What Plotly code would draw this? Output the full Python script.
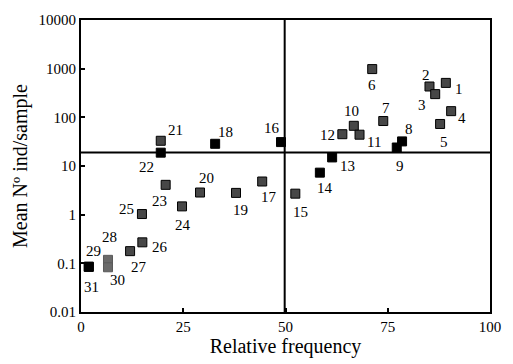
import numpy as np
import plotly.graph_objects as go

# ---- data ----
ids = list(range(1, 32))
rel_freq = [89.2, 85.2, 86.6, 90.5, 87.8, 71.2, 73.9, 78.5, 77.2, 66.7,
            68.1, 63.9, 61.4, 58.4, 52.4, 48.9, 44.3, 32.8, 37.9, 29.1,
            19.5, 19.5, 20.7, 24.7, 14.9, 15.0, 12.0, 6.6, 1.9, 6.6, 1.9]
mean_ind = [510, 430, 300, 134, 73, 980, 84, 32, 24, 67,
            44, 45, 15, 7.3, 2.7, 31, 4.8, 28.6, 2.8, 2.85,
            33, 18.8, 4.1, 1.48, 1.03, 0.27, 0.178, 0.118, 0.085, 0.083, 0.085]
ref_x = 49.8
ref_y = 19
x_ticks = [0, 25, 50, 75, 100]
y_ticks = [0.01, 0.1, 1, 10, 100, 1000, 10000]
y_ticktext = ["0.01", "0.1", "1", "10", "100", "1000", "10000"]

# ---- styles ----
black_ids = {8, 9, 13, 14, 16, 18, 22, 29, 31}
light_ids = {28, 30}
colors = ["#000000" if i in black_ids else ("#6a6a6a" if i in light_ids else "#474747") for i in ids]
line_colors = ["#5a5a5a" if i in light_ids else "#000000" for i in ids]
label_offsets = {
    1: (13, 6), 2: (-3, -12), 3: (-13, 11), 4: (11, 7), 5: (4, 18),
    6: (0, 16), 7: (3, -13), 8: (7, -12), 9: (3, 18), 10: (-2, -15),
    11: (14, 7), 12: (-15, 1), 13: (15, 9), 14: (5, 15), 15: (5, 18),
    16: (-9, -14), 17: (7, 15), 18: (10, -12), 19: (4, 17), 20: (6, -15),
    21: (15, -11), 22: (-14, 14), 23: (-6, 16), 24: (1, 19), 25: (-15, -5),
    26: (18, 5), 27: (9, 16), 28: (2, -23), 29: (5, -16), 30: (10, 13),
    31: (3, 20),
}
FONT = "Liberation Serif, Times New Roman, DejaVu Serif, serif"

fig = go.Figure()
fig.add_trace(go.Scatter(
    x=rel_freq, y=mean_ind, mode="markers",
    marker=dict(symbol="square", size=9, color=colors,
                line=dict(color=line_colors, width=1)),
    showlegend=False, hoverinfo="skip"))

for i, xv, yv in zip(ids, rel_freq, mean_ind):
    dx, dy = label_offsets[i]
    fig.add_annotation(x=xv, y=np.log10(yv), text=str(i), showarrow=False,
                       xshift=dx, yshift=-dy,
                       font=dict(family=FONT, size=15, color="#000000"))

# reference lines
fig.add_shape(type="line", xref="x", yref="paper", x0=ref_x, x1=ref_x, y0=0, y1=1,
              line=dict(color="#000000", width=2))
fig.add_shape(type="line", xref="paper", yref="y", x0=0, x1=1,
              y0=ref_y, y1=ref_y, line=dict(color="#000000", width=2))

fig.update_xaxes(range=[0, 100], tickvals=x_ticks, ticks="inside", ticklen=4,
                 tickwidth=1.5, tickcolor="#000000", showline=True, mirror=True,
                 linecolor="#000000", linewidth=2, showgrid=False, zeroline=False,
                 tickfont=dict(family=FONT, size=15, color="#000000"),
                 title=dict(text="Relative frequency", standoff=3,
                            font=dict(family=FONT, size=20, color="#000000")))
fig.update_yaxes(type="log", range=[-2, 4], tickvals=y_ticks, ticktext=y_ticktext,
                 ticks="inside", ticklen=4, tickwidth=1.5, tickcolor="#000000",
                 showline=True, mirror=True, linecolor="#000000", linewidth=2,
                 showgrid=False, zeroline=False,
                 tickfont=dict(family=FONT, size=15, color="#000000"),
                 title=dict(text="Mean Nº ind/sample", standoff=6,
                            font=dict(family=FONT, size=20, color="#000000")))

fig.update_layout(width=513, height=364, margin=dict(l=81, r=18, t=15, b=51),
                  paper_bgcolor="#ffffff", plot_bgcolor="#ffffff",
                  font=dict(family=FONT, color="#000000"))

fig.write_html("out.html")
